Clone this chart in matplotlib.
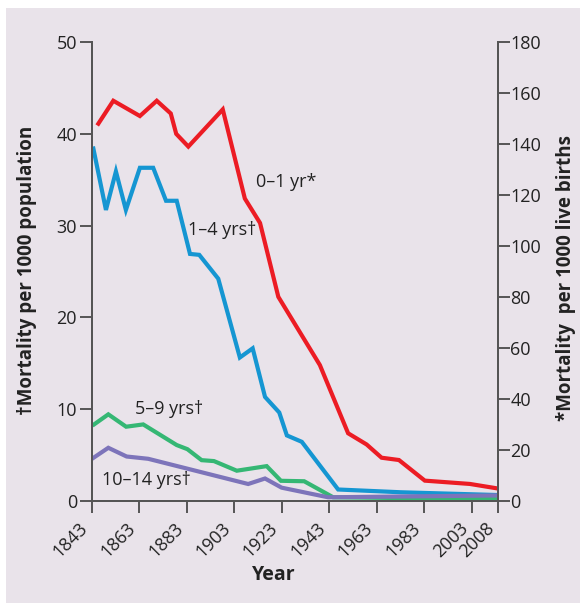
import matplotlib

matplotlib.use("Agg")
import matplotlib.pyplot as plt
from matplotlib.patches import Rectangle

plt.rcParams["font.family"] = ["Open Sans", "DejaVu Sans"]

# 0-1 yr, per 1000 live births (right axis)
YEARS_0_1 = [1845.8, 1852.1, 1863.3, 1870.4, 1876.3, 1878.6, 1883.7, 1898.2, 1907.5,
             1913.9, 1921.6, 1939.1, 1951.0, 1958.8, 1965.1, 1972.4, 1983.3, 2002.3, 2013.5]
MORT_0_1 = [148, 157, 151, 157, 152, 144, 139, 153.6, 118.6,
            109, 80, 53.2, 26.4, 22, 16.8, 15.9, 7.8, 6.5, 4.8]

# per 1000 population (left axis)
YEARS_1_4 = [1843.7, 1849.0, 1853.2, 1857.4, 1863.3, 1868.9, 1874.3, 1878.8, 1884.4, 1888.3,
             1896.3, 1905.4, 1910.8, 1916.0, 1922.0, 1925.2, 1931.5, 1946.8, 1973.0, 2013.5]
MORT_1_4 = [38.4, 31.7, 35.9, 31.7, 36.3, 36.3, 32.7, 32.7, 26.9, 26.8,
            24.2, 15.6, 16.6, 11.3, 9.6, 7.1, 6.4, 1.2, 0.9, 0.6]

YEARS_5_9 = [1844.0, 1850.0, 1857.5, 1864.7, 1878.8, 1883.3, 1889.3, 1894.5, 1904.1,
             1916.7, 1922.7, 1932.5, 1944.7, 2013.5]
MORT_5_9 = [8.3, 9.4, 8.05, 8.3, 6.05, 5.6, 4.4, 4.3, 3.25, 3.75, 2.15, 2.1, 0.35, 0.15]

YEARS_10_14 = [1843.7, 1850.0, 1857.7, 1866.8, 1908.9, 1916.0, 1923.0, 1942.6, 2013.5]
MORT_10_14 = [4.65, 5.75, 4.8, 4.55, 1.8, 2.4, 1.4, 0.35, 0.55]

XTICKS = [1843, 1863, 1883, 1903, 1923, 1943, 1963, 1983, 2003, 2014]
XTICK_LABELS = ["1843", "1863", "1883", "1903", "1923", "1943", "1963", "1983", "2003", "2008"]

BG = "#e9e3ea"
SPINE = "#555555"
FS = 13

fig = plt.figure(figsize=(5.80, 6.03), dpi=100)
fig.patches.append(Rectangle((6 / 580, 0), 1, (603 - 8) / 603, transform=fig.transFigure,
                             facecolor=BG, edgecolor="none", zorder=-10))

ax = fig.add_axes([91.7 / 580, 1 - 500.5 / 603, 406 / 580, 458.3 / 603])
ax.patch.set_alpha(0)
ax2 = ax.twinx()
ax2.patch.set_alpha(0)

ax.plot(YEARS_1_4, MORT_1_4, color="#1596d2", lw=3, solid_joinstyle="miter")
ax.plot(YEARS_5_9, MORT_5_9, color="#35b774", lw=3, solid_joinstyle="miter")
ax.plot(YEARS_10_14, MORT_10_14, color="#7d74ba", lw=3, solid_joinstyle="miter")
ax2.plot(YEARS_0_1, MORT_0_1, color="#ec1c24", lw=3, solid_joinstyle="miter")

ax.set_xlim(1843, 2014)
ax.set_ylim(0, 50)
ax2.set_ylim(0, 180)
ax.set_yticks(range(0, 51, 10))
ax2.set_yticks(range(0, 181, 20))
ax.set_xticks(XTICKS)
ax.set_xticklabels(XTICK_LABELS, rotation=45, ha="right", va="top")

for a in (ax, ax2):
    a.spines["top"].set_visible(False)
    for s in a.spines.values():
        s.set_color(SPINE)
        s.set_linewidth(1.4)
    a.tick_params(colors=SPINE, labelcolor="#222222", labelsize=FS, width=1.4, length=8.5)
ax.tick_params(axis="y", pad=2)
ax.tick_params(axis="x", pad=5)
ax2.tick_params(axis="y", pad=0.5)

ax.text(1912.2, 34.8, "0\u20131 yr*", fontsize=FS, va="center", color="#222222")
ax.text(1883.5, 29.5, "1\u20134 yrs\u2020", fontsize=FS, va="center", color="#222222")
ax.text(1861.2, 10.0, "5\u20139 yrs\u2020", fontsize=FS, va="center", color="#222222")
ax.text(1847.2, 2.2, "10\u201314 yrs\u2020", fontsize=FS, va="center", color="#222222")

fig.text(26.7 / 580, 1 - 270 / 603, "\u2020Mortality per 1000 population", rotation=90,
         ha="center", va="center", fontsize=13.5, fontweight="bold", color="#222222")
fig.text(566 / 580, 1 - 278 / 603, "*Mortality  per 1000 live births", rotation=90,
         ha="center", va="center", fontsize=13.5, fontweight="bold", color="#222222")
fig.text(274 / 580, 1 - 575 / 603, "Year", ha="center", va="center",
         fontsize=FS + 1, fontweight="bold", color="#222222")

fig.savefig("out.png", dpi=100)
